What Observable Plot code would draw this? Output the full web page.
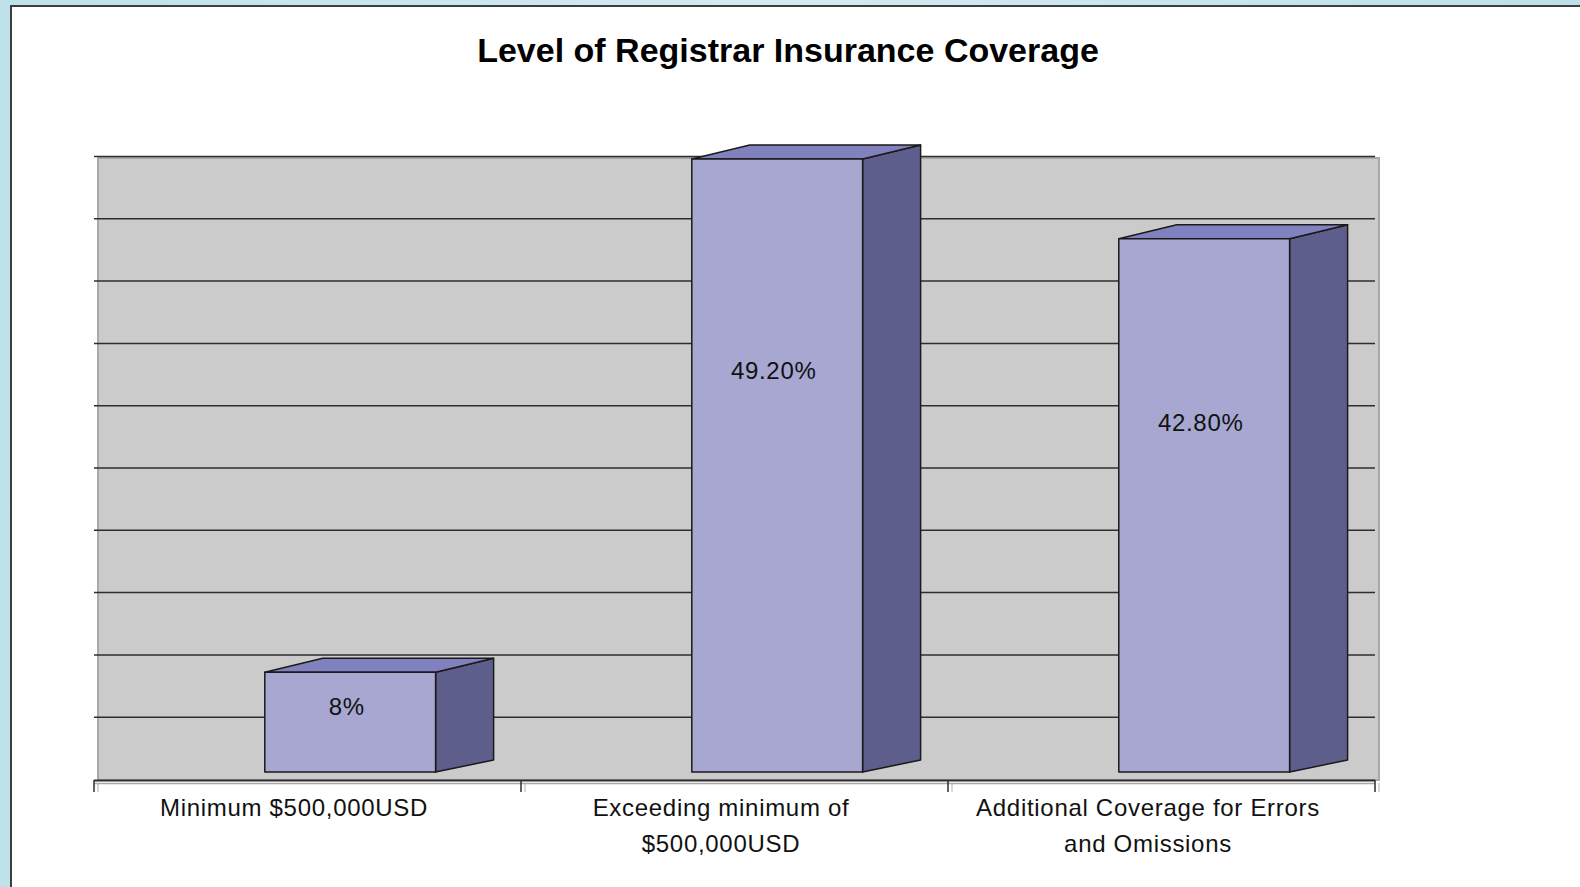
<!DOCTYPE html>
<html><head><meta charset="utf-8">
<script src="https://cdn.jsdelivr.net/npm/d3@7"></script>
<script src="https://cdn.jsdelivr.net/npm/@observablehq/plot@0.6"></script>
<style>
html,body{margin:0;padding:0;width:1580px;height:887px;overflow:hidden;}
body{background:linear-gradient(90deg,#bfe1e9,#d2ebf0 50%,#bde0e8);font-family:"Liberation Sans",Arial,sans-serif;position:relative;}
#panel{position:absolute;left:10px;top:5px;width:1568px;height:880px;background:#fff;border-left:2px solid #3e3e3e;border-top:2px solid #3e3e3e;}
#title{height:83px;box-sizing:border-box;padding-top:26px;padding-right:16px;text-align:center;font-size:34px;line-height:34px;font-weight:bold;color:#000;white-space:nowrap;}
#chart svg{display:block;}
#chart text{letter-spacing:0.7px;}
</style></head>
<body><div id="panel"><div id="title">Level of Registrar Insurance Coverage</div><div id="chart"></div></div>
<script>
const categories = ["Minimum $500,000USD", "Exceeding minimum of $500,000USD", "Additional Coverage for Errors and Omissions"];
const tickLabels = ["Minimum $500,000USD", "Exceeding minimum of\n$500,000USD", "Additional Coverage for Errors\nand Omissions"];
const values = [8, 49.2, 42.8];
const valueLabels = ["8%", "49.20%", "42.80%"];
const gridValues = [5, 10, 15, 20, 25, 30, 35, 40, 45, 50];

const W = 1568, H = 797, ML = 82, MR = 205, MT = 59, MB = 115;
const BW = (W - ML - MR) / categories.length;
const rows = categories.map((c, i) => ({cat: c, value: values[i], label: valueLabels[i], tick: tickLabels[i]}));

const FRONT = "#a7a7d1", TOP = "#8181c0", SIDE = "#5e5e8d", EDGE = "#1a1a1a";
const DEPTH_X = 58, DEPTH_Y_TOP = -14, DEPTH_Y_BOTTOM = -12;

function bars3d(index, scales) {
  const {x, y} = scales;
  const bw = x.bandwidth();
  const y0 = y(0);
  const g = d3.create("svg:g");
  const bounds = categories.map(c => x(c)).concat([x(categories[categories.length - 1]) + bw]);
  for (const bx of bounds) {
    g.append("line").attr("x1", bx).attr("x2", bx).attr("y1", y0 + 8).attr("y2", y0 + 20)
      .attr("stroke", "#2e2e2e").attr("stroke-width", 1.5);
    g.append("line").attr("x1", bx + 4).attr("x2", bx + 4).attr("y1", y0 + 11).attr("y2", y0 + 20)
      .attr("stroke", "#b0b0b0").attr("stroke-width", 1);
  }
  rows.forEach(r => {
    const L = x(r.cat) + 0.4 * bw, R = x(r.cat) + 0.8 * bw, T = y(r.value), B = y0;
    const poly = (pts, fill) => g.append("polygon")
      .attr("points", pts.map(p => p.join(",")).join(" "))
      .attr("fill", fill).attr("stroke", EDGE).attr("stroke-width", 1.5).attr("stroke-linejoin", "round");
    poly([[R, B], [R, T], [R + DEPTH_X, T + DEPTH_Y_TOP], [R + DEPTH_X, B + DEPTH_Y_BOTTOM]], SIDE);
    poly([[L, T], [L + DEPTH_X, T + DEPTH_Y_TOP], [R + DEPTH_X, T + DEPTH_Y_TOP], [R, T]], TOP);
    poly([[L, B], [L, T], [R, T], [R, B]], FRONT);
  });
  return g.node();
}

const chart = Plot.plot({
  width: W, height: H,
  marginLeft: ML, marginRight: MR, marginTop: MT, marginBottom: MB,
  x: {type: "band", domain: categories, padding: 0, axis: null},
  y: {domain: [0, 50], axis: null},
  style: {background: "transparent", fontFamily: "'Liberation Sans', Arial, sans-serif", color: "#000", overflow: "visible"},
  marks: [
    Plot.rect([0], {y1: 0, y2: 50, fill: "#cbcbcb", stroke: "#a9a9a9", strokeWidth: 2,
      insetLeft: 4, insetRight: -4, insetTop: 9, insetBottom: -8}),
    Plot.ruleY(gridValues, {stroke: "#2e2e2e", strokeWidth: 1.5, dy: 7}),
    Plot.ruleY([0], {stroke: "#a9a9a9", strokeWidth: 1.5, dy: 11}),
    Plot.ruleY([0], {stroke: "#2e2e2e", strokeWidth: 2, dy: 8}),
    bars3d,
    Plot.text(rows, {x: "cat", y: d => d.value * 0.655, text: "label", dx: 0.1 * BW - 4,
      fontSize: 24, fill: "#111", textAnchor: "middle", lineAnchor: "middle"}),
    Plot.text(rows, {x: "cat", y: 0, text: "tick", dx: -14, dy: 18, lineAnchor: "top",
      lineHeight: 1.5, fontSize: 24, fill: "#111", textAnchor: "middle"})
  ]
});
document.getElementById("chart").appendChild(chart);
</script>
</body></html>
